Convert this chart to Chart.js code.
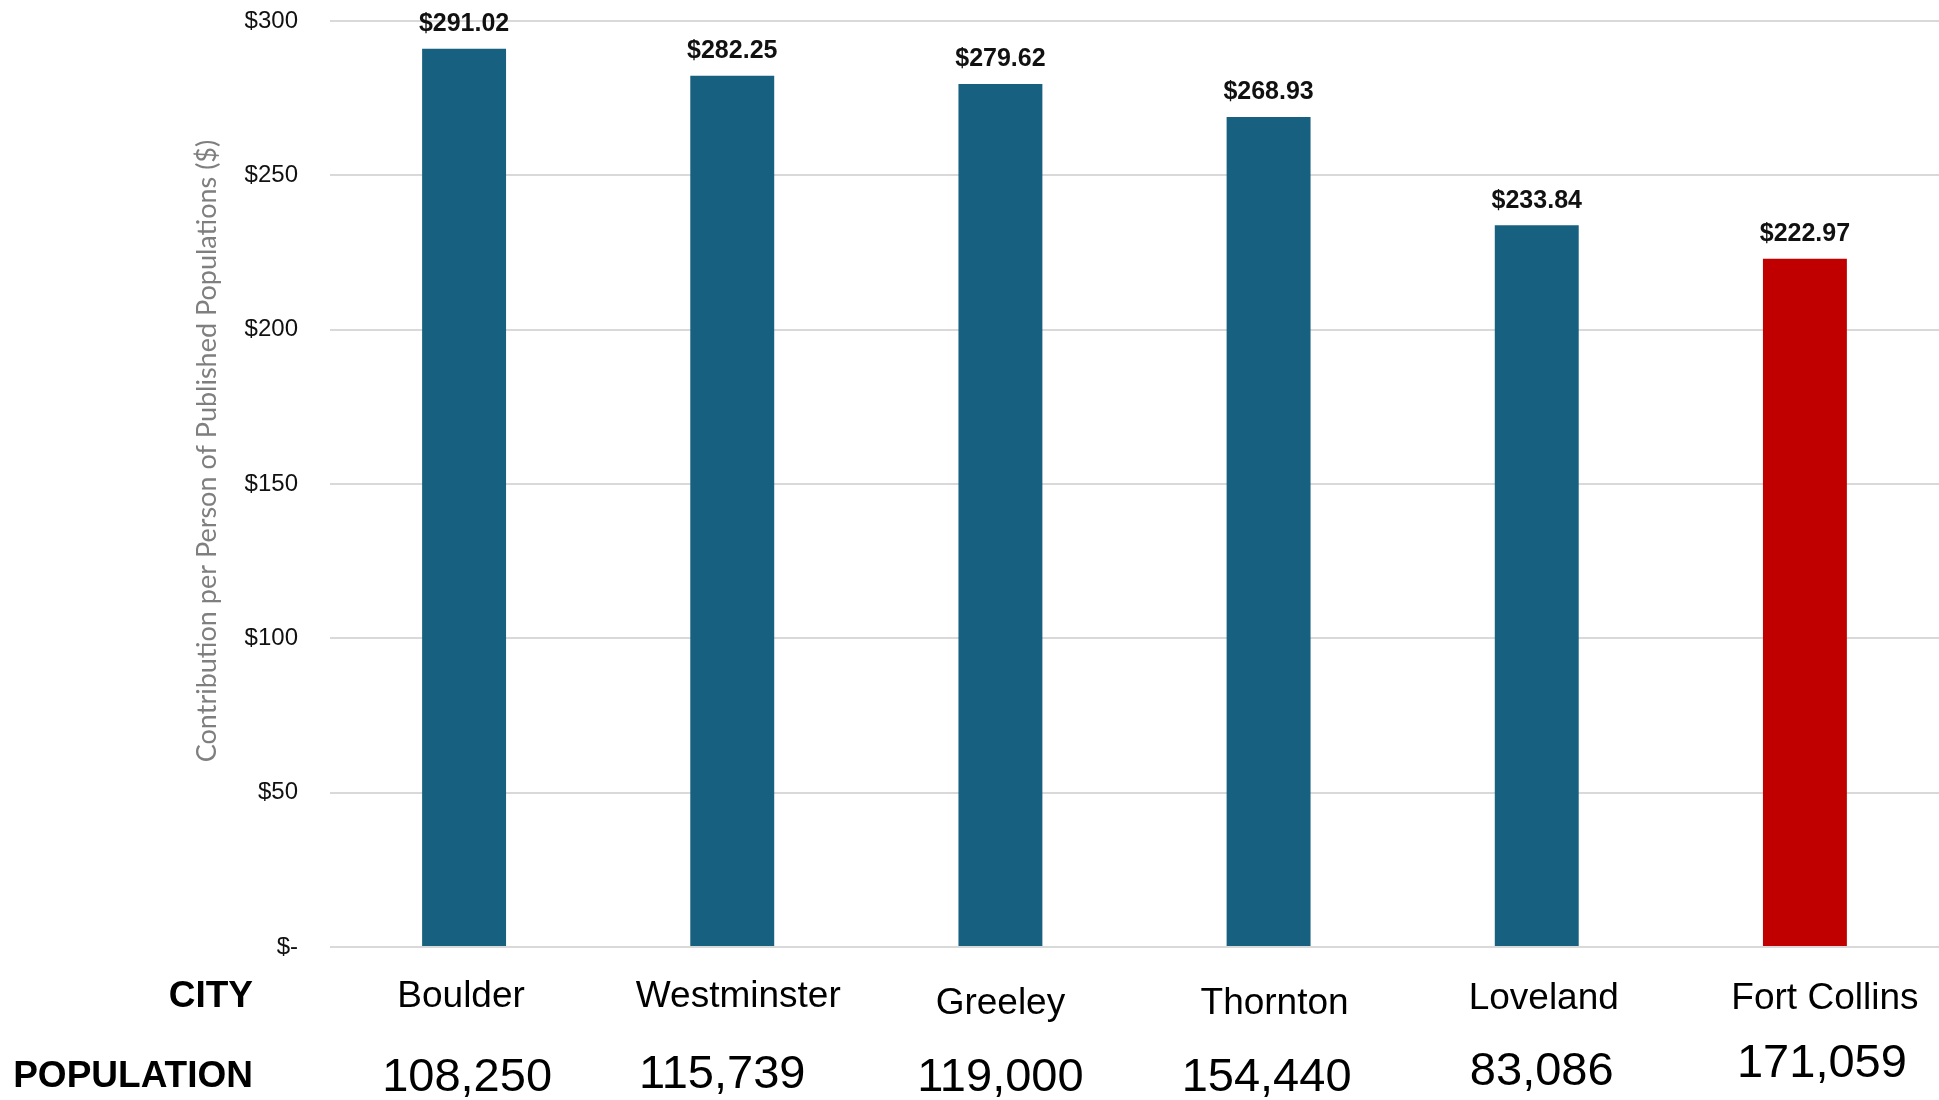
<!DOCTYPE html>
<html>
<head>
<meta charset="utf-8">
<script src="https://cdn.jsdelivr.net/npm/chart.js@4"></script>
<style>
  html, body { margin: 0; padding: 0; background: #fff; }
  #wrap { width: 1939px; height: 1100px; position: relative; }
</style>
</head>
<body>
<div id="wrap"><canvas id="chart"></canvas></div>
<script>
// chart data
const cities = ['Boulder', 'Westminster', 'Greeley', 'Thornton', 'Loveland', 'Fort Collins'];
const perPerson = [291.02, 282.25, 279.62, 268.93, 233.84, 222.97];
const populations = ['108,250', '115,739', '119,000', '154,440', '83,086', '171,059'];
const barColors = ['#17607f', '#17607f', '#17607f', '#17607f', '#17607f', '#c00000'];
const yTicks = [0, 50, 100, 150, 200, 250, 300];

// label nudges, the text boxes in the original are not perfectly aligned
const cityNudge = [[-3, 0], [6, 0], [0, 7], [6, 7], [7, 2], [20, 2]];
const popNudge = [[3, 0], [-10, -3], [0, 0], [-2, 0], [5, -6], [17, -14]];

const labelsPlugin = {
    id: 'labels',
    afterDraw(chart) {
        const ctx = chart.ctx;
        const x = chart.scales.x;
        const meta = chart.getDatasetMeta(0);
        ctx.save();

        // value labels above the bars
        ctx.font = 'bold 25px "Liberation Sans", Arial, sans-serif';
        ctx.fillStyle = '#111';
        ctx.textAlign = 'center';
        ctx.textBaseline = 'bottom';
        meta.data.forEach((bar, i) => {
            ctx.fillText('$' + perPerson[i].toFixed(2), bar.x, bar.y - 12);
        });

        // city + population rows
        ctx.textBaseline = 'middle';
        ctx.font = '37px "Liberation Sans", Arial, sans-serif';
        ctx.fillStyle = '#000';
        cities.forEach((c, i) => {
            ctx.fillText(c, x.getPixelForValue(i) + cityNudge[i][0], 997 + cityNudge[i][1]);
        });
        ctx.font = '47px "Liberation Sans", Arial, sans-serif';
        populations.forEach((p, i) => {
            ctx.fillText(p, x.getPixelForValue(i) + popNudge[i][0], 1078 + popNudge[i][1]);
        });

        ctx.font = 'bold 37px "Liberation Sans", Arial, sans-serif';
        ctx.textAlign = 'right';
        ctx.fillText('CITY', 253, 997);
        ctx.fillText('POPULATION', 253, 1077);

        // y axis title
        ctx.translate(207, 451);
        ctx.rotate(-Math.PI / 2);
        ctx.textAlign = 'center';
        ctx.font = '27px Lato, "Open Sans", sans-serif';
        ctx.fillStyle = '#7f7f7f';
        ctx.fillText('Contribution per Person of Published Populations ($)', 0, 0);
        ctx.restore();
    }
};

new Chart(document.getElementById('chart'), {
    type: 'bar',
    data: {
        labels: cities,
        datasets: [{
            data: perPerson,
            backgroundColor: barColors,
            borderWidth: 0,
            barPercentage: 0.313,
            categoryPercentage: 1
        }]
    },
    options: {
        responsive: true,
        maintainAspectRatio: false,
        devicePixelRatio: 1,
        animation: false,
        layout: { padding: { top: 21, bottom: 153, left: 0, right: 0 } },
        plugins: { legend: { display: false }, tooltip: { enabled: false } },
        scales: {
            x: {
                grid: { display: false },
                border: { display: false },
                ticks: { display: false },
                afterFit(scale) { scale.height = 0; }
            },
            y: {
                min: 0,
                max: 300,
                afterFit(scale) {
                    scale.width = 330;
                    scale.paddingTop = 0;
                    scale.paddingBottom = 0;
                },
                afterBuildTicks(scale) { scale.ticks = yTicks.map(v => ({ value: v })); },
                grid: { color: '#d9d9d9', lineWidth: 2, drawTicks: false },
                border: { display: false },
                ticks: {
                    padding: 32,
                    color: '#111',
                    font: { family: '"Liberation Sans", Arial, sans-serif', size: 24 },
                    callback: v => v === 0 ? '$-' : '$' + v
                }
            }
        }
    },
    plugins: [labelsPlugin]
});
</script>
</body>
</html>
